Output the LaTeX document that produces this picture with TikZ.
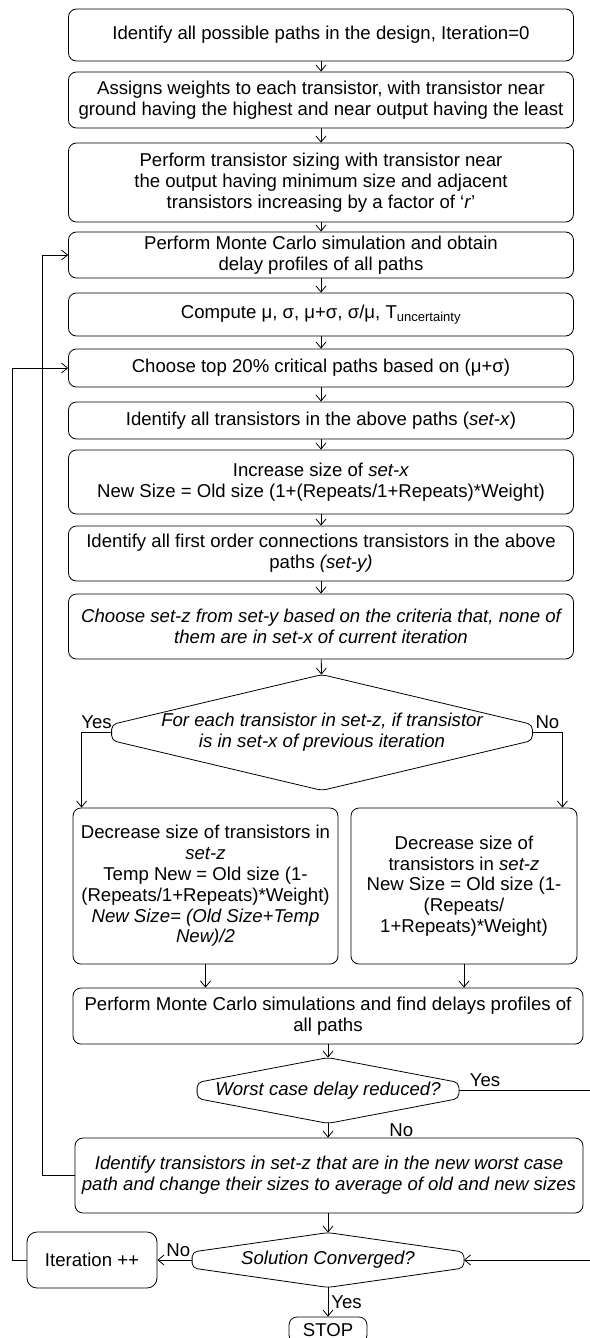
\documentclass[tikz,border=0pt]{standalone}
\usepackage{fontspec}
\setmainfont{Liberation Sans}
\usetikzlibrary{arrows.meta}

\begin{document}
\begin{tikzpicture}[x=1pt, y=-1pt, line width=0.8pt,
    every node/.style={font=\fontsize{18.6}{20.8}\selectfont},
    proc/.style={draw, rounded corners=8pt, align=center, inner sep=0pt},
    decision/.style={align=center, inner sep=0pt, font=\fontsize{18.6}{20.8}\selectfont\itshape},
    lbl/.style={inner sep=3pt},
    flow/.style={-{Straight Barb[length=6pt,width=10pt]}}]
    \useasboundingbox (0,0) rectangle (589,1338);

    \node[proc, minimum width=505pt, minimum height=52pt] (b1) at (321,35) {Identify all possible paths in the design, Iteration=0};
    \node[proc, minimum width=505pt, minimum height=56pt] (b2) at (321,100) {Assigns weights to each transistor, with transistor near\\ground having the highest and near output having the least};
    \node[proc, minimum width=505pt, minimum height=79pt] (b3) at (321,182.5) {Perform transistor sizing with transistor near\\the output having minimum size and adjacent\\transistors increasing by a factor of ‘\textit{r}’};
    \node[proc, minimum width=505pt, minimum height=46pt] (b4) at (321,255) {Perform Monte Carlo simulation and obtain\\delay profiles of all paths};
    \node[proc, minimum width=505pt, minimum height=43pt] (b5) at (321,314.5) {Compute μ, σ, μ+σ, σ/μ, T\textsubscript{uncertainty}};
    \node[proc, minimum width=505pt, minimum height=38pt] (b6) at (321,368) {Choose top 20\% critical paths based on (μ+σ)};
    \node[proc, minimum width=505pt, minimum height=37pt] (b7) at (321,420.5) {Identify all transistors in the above paths (\textit{set-x})};
    \node[proc, minimum width=505pt, minimum height=64pt] (b8) at (321,482) {Increase size of \textit{set-x}\\New Size = Old size (1+(Repeats/1+Repeats)*Weight)};
    \node[proc, minimum width=505pt, minimum height=55pt] (b9) at (321,553.5) {Identify all first order connections transistors in the above\\paths \textit{(set-y)}};
    \node[proc, minimum width=505pt, minimum height=65pt, font=\fontsize{18.6}{20.8}\selectfont\itshape] (b10) at (321,626.5) {Choose set-z from set-y based on the criteria that, none of\\them are in set-x of current iteration};

    \node[decision, minimum width=420pt, minimum height=115pt] (d1) at (322,732.5) {For each transistor in set-z, if transistor\\is in set-x of previous iteration};

    \node[proc, minimum width=265pt, minimum height=156pt] (b11) at (205.5,886) {Decrease size of transistors in\\\textit{set-z}\\Temp New = Old size (1-\\(Repeats/1+Repeats)*Weight)\\\textit{New Size= (Old Size+Temp}\\\textit{New)/2}};
    \node[proc, minimum width=226pt, minimum height=156pt] (b12) at (464,886) {Decrease size of\\transistors in \textit{set-z}\\New Size = Old size (1-\\(Repeats/\\1+Repeats)*Weight)};
    \node[proc, minimum width=510pt, minimum height=56pt] (b13) at (328,1016) {Perform Monte Carlo simulations and find delays profiles of\\all paths};

    \node[decision, minimum width=261pt, minimum height=65pt] (d2) at (328,1090.5) {Worst case delay reduced?};
    \node[proc, minimum width=508pt, minimum height=75pt, font=\fontsize{18.6}{20.8}\selectfont\itshape] (b14) at (329,1175.5) {Identify transistors in set-z that are in the new worst case\\path and change their sizes to average of old and new sizes};
    \node[decision, minimum width=271pt, minimum height=54pt] (d3) at (328,1260) {Solution Converged?};
    \node[proc, rounded corners=10pt, minimum width=130pt, minimum height=56pt] (iter) at (92,1260) {Iteration ++};
    \node[proc, minimum width=78pt, minimum height=26pt] (stop) at (328,1330) {STOP};

    % decision outlines
    \draw[rounded corners=5pt] (d1.north) -- ([yshift=8pt]d1.west) -- ([yshift=-8pt]d1.west) -- (d1.south) -- ([yshift=-8pt]d1.east) -- ([yshift=8pt]d1.east) -- cycle;
    \draw[rounded corners=5pt] (d2.north) -- ([yshift=8pt]d2.west) -- ([yshift=-8pt]d2.west) -- (d2.south) -- ([yshift=-8pt]d2.east) -- ([yshift=8pt]d2.east) -- cycle;
    \draw[rounded corners=5pt] (d3.north) -- ([yshift=8pt]d3.west) -- ([yshift=-8pt]d3.west) -- (d3.south) -- ([yshift=-8pt]d3.east) -- ([yshift=8pt]d3.east) -- cycle;

    \draw[flow] (b1) edge (b2)
          (b2) edge (b3)
          (b3) edge (b4)
          (b4) edge (b5)
          (b5) edge (b6)
          (b6) edge (b7)
          (b7) edge (b8)
          (b8) edge (b9)
          (b9) edge (b10)
          (b10) edge (d1)
          ;
    \draw[flow] (d1.west) -| node[lbl, above, pos=0.25]{Yes} ([xshift=9pt]b11.north west);
    \draw[flow] (d1.east) -| node[lbl, above, pos=0.25]{No} ([xshift=-15pt]b12.north east);
    \draw[flow] (b11.south) -- (b11.south |- b13.north);
    \draw[flow] (b12.south) -- (b12.south |- b13.north);
    \draw[flow] (b13.south) -- (b13.south |- d2.north);
    \draw[flow] (d2.south) -- node[lbl, right, xshift=58pt]{No} (d2.south |- b14.north);
    \draw[flow] (d2.east) -- ++(131,0) node[lbl, above, pos=0.2]{Yes} |- (d3.east);
    \draw[flow] (d3.north |- b14.south) -- (d3.north);
    \draw[flow] (d3.west) -- node[lbl, above, pos=0.4]{No} (iter.east);
    \draw[flow] (d3.south) -- node[lbl, right]{Yes} (stop.north);
    \draw[flow] (b14.west) -- ++(-32,0) |- (b4.west);
    \draw[flow] (iter.west) -- ++(-14,0) |- (b6.west);
\end{tikzpicture}
\end{document}
